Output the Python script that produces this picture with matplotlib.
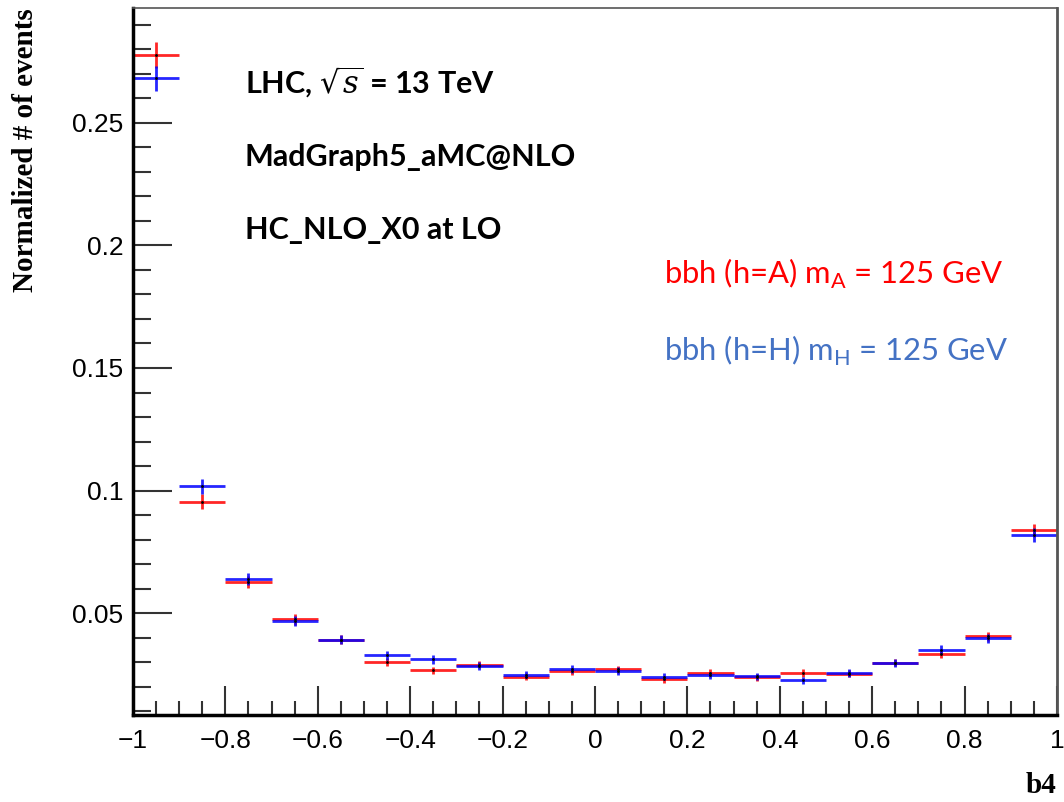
import numpy as np
import matplotlib
matplotlib.use("Agg")
import matplotlib.pyplot as plt

# b4 distribution, bins of width 0.1 from -1 to 1
bin_edges = [-1.0, -0.9, -0.8, -0.7, -0.6, -0.5, -0.4, -0.3, -0.2, -0.1, 0.0,
             0.1, 0.2, 0.3, 0.4, 0.5, 0.6, 0.7, 0.8, 0.9, 1.0]

# bbh (h=A), red
red_vals = [0.2779, 0.0955, 0.0626, 0.0474, 0.0391, 0.0299, 0.0266, 0.0290, 0.0241, 0.0262,
            0.0270, 0.0230, 0.0256, 0.0238, 0.0256, 0.0253, 0.0298, 0.0333, 0.0405, 0.0837]
red_errs = [0.0053, 0.0030, 0.0025, 0.0021, 0.0019, 0.0016, 0.0015, 0.0016, 0.0015, 0.0015,
            0.0015, 0.0014, 0.0015, 0.0015, 0.0015, 0.0015, 0.0016, 0.0017, 0.0019, 0.0028]

# bbh (h=H), blue
blue_vals = [0.2682, 0.1018, 0.0639, 0.0467, 0.0392, 0.0327, 0.0311, 0.0284, 0.0249, 0.0273,
             0.0263, 0.0241, 0.0246, 0.0242, 0.0225, 0.0255, 0.0297, 0.0350, 0.0397, 0.0818]
blue_errs = [0.0052, 0.0031, 0.0025, 0.0021, 0.0019, 0.0018, 0.0017, 0.0016, 0.0015, 0.0016,
             0.0016, 0.0015, 0.0015, 0.0015, 0.0015, 0.0015, 0.0017, 0.0018, 0.0019, 0.0028]

edges = np.array(bin_edges)
centers = (edges[:-1] + edges[1:]) / 2
half_w = (edges[1:] - edges[:-1]) / 2

plt.rcParams['mathtext.fontset'] = 'dejavuserif'

fig = plt.figure(figsize=(10.64, 8.02), dpi=100)
ax = fig.add_axes([0.125, 0.1085, 0.8684, 0.8815])

ax.errorbar(centers, red_vals, xerr=half_w, yerr=red_errs, fmt='none',
            ecolor='#ff0000', elinewidth=2, alpha=0.85)
ax.errorbar(centers, blue_vals, xerr=half_w, yerr=blue_errs, fmt='none',
            ecolor='#0000ff', elinewidth=2, alpha=0.85)
ax.plot(centers, red_vals, 'k.', markersize=2)
ax.plot(centers, blue_vals, 'k.', markersize=2)

ax.set_xlim(-1, 1)
ax.set_ylim(0.0084, 0.2969)

ax.set_xticks(np.arange(-1, 1.01, 0.2))
ax.set_xticks(np.arange(-1, 1.01, 0.05), minor=True)
ax.set_yticks([0.05, 0.1, 0.15, 0.2, 0.25])
ax.set_yticks(np.arange(0.01, 0.295, 0.01), minor=True)
ax.set_xticklabels(['\u22121', '\u22120.8', '\u22120.6', '\u22120.4', '\u22120.2', '0',
                    '0.2', '0.4', '0.6', '0.8', '1'])
ax.set_yticklabels(['0.05', '0.1', '0.15', '0.2', '0.25'])

ax.tick_params(axis='both', which='major', direction='in', length=28, width=1.5,
               labelsize=19, top=False, right=False, color='#333333', pad=7)
ax.tick_params(axis='both', which='minor', direction='in', length=13, width=1.5,
               top=False, right=False, color='#333333')
ax.tick_params(axis='x', which='major', length=21, pad=10)
ax.tick_params(axis='x', which='minor', length=10)
for lab in ax.get_xticklabels() + ax.get_yticklabels():
    lab.set_family('Liberation Sans')

ax.spines['left'].set_linewidth(2.5)
ax.spines['bottom'].set_linewidth(2.5)
ax.spines['top'].set_linewidth(1.2)
ax.spines['right'].set_linewidth(2)
ax.spines['top'].set_color('#555555')
ax.spines['right'].set_color('#555555')

fig.text(0.024, 0.99, 'Normalized # of events', rotation=90, ha='center', va='top',
         family='Liberation Serif', fontweight='bold', fontsize=21)
fig.text(0.993, 0.004, 'b4', ha='right', va='bottom',
         family='Liberation Serif', fontweight='bold', fontsize=21)

ax.text(0.23, 0.898, r'LHC, $\sqrt{s}$ = 13 TeV', transform=fig.transFigure,
        family='Lato', fontweight='bold', fontsize=22, va='center')
ax.text(0.23, 0.804, 'MadGraph5_aMC@NLO', transform=fig.transFigure,
        family='Lato', fontweight='bold', fontsize=22, va='center')
ax.text(0.23, 0.713, 'HC_NLO_X0 at LO', transform=fig.transFigure,
        family='Lato', fontweight='bold', fontsize=22, va='center')

ax.text(0.624, 0.659, r'bbh (h=A) m$_\mathregular{A}$ = 125 GeV', transform=fig.transFigure,
        family='Lato', fontsize=22.3, color='#ff0000', va='center')
ax.text(0.624, 0.563, r'bbh (h=H) m$_\mathregular{H}$ = 125 GeV', transform=fig.transFigure,
        family='Lato', fontsize=22.3, color='#4472c4', va='center')

fig.savefig('out.png', dpi=100)
